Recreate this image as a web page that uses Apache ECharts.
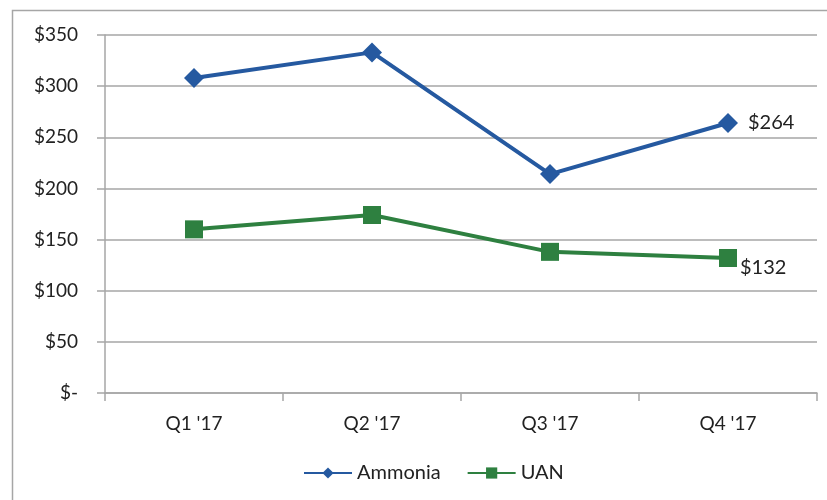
<!DOCTYPE html>
<html>
<head>
<meta charset="utf-8">
<script src="https://cdn.jsdelivr.net/npm/echarts@6/dist/echarts.min.js"></script>
<style>
  html, body { margin: 0; padding: 0; background: #fff; }
  #chart { width: 827px; height: 500px; }
</style>
</head>
<body>
<div id="chart"></div>
<script>
// 季度
const quarters = ["Q1 '17", "Q2 '17", "Q3 '17", "Q4 '17"];
// 价格
const ammonia = [308, 333, 214, 264];
const uan = [160, 174, 138, 132];

const font = "Lato, 'Open Sans', sans-serif";

let myChart = echarts.init(document.getElementById("chart"));
myChart.setOption({
  animation: false,
  textStyle: { fontFamily: font },
  graphic: [
    {
      type: "rect",
      shape: { x: 12.5, y: 10.5, width: 830, height: 500 },
      style: { fill: "none", stroke: "#A6A6A6", lineWidth: 1.5 },
    },
  ],
  legend: {
    bottom: 17,
    left: 303,
    padding: 0,
    itemWidth: 48,
    itemHeight: 14,
    itemGap: 26,
    textStyle: { fontSize: 20, color: "#222", fontFamily: font },
    data: ["Ammonia", "UAN"],
  },
  grid: {
    left: 105,
    right: 10,
    top: 35,
    bottom: 107,
    containLabel: false,
  },
  xAxis: {
    type: "category",
    data: quarters,
    boundaryGap: true,
    axisLine: { lineStyle: { color: "#A6A6A6", width: 1.5 } },
    axisTick: { show: true, length: 8, lineStyle: { color: "#A6A6A6", width: 1.5 } },
    axisLabel: { color: "#222", fontSize: 19, margin: 21, fontFamily: font },
  },
  yAxis: {
    type: "value",
    min: 0,
    max: 350,
    interval: 50,
    axisLine: { show: true, lineStyle: { color: "#A6A6A6", width: 1.5 } },
    axisTick: { show: true, inside: false, length: 8, lineStyle: { color: "#A6A6A6", width: 1.5 } },
    splitLine: { show: true, lineStyle: { color: "#A6A6A6", width: 1.5 } },
    axisLabel: {
      color: "#222",
      fontSize: 19,
      margin: 27,
      fontFamily: font,
      formatter: function (v) {
        return v === 0 ? "$-" : "$" + v;
      },
    },
  },
  series: [
    {
      name: "Ammonia",
      type: "line",
      data: ammonia,
      symbol: "diamond",
      symbolSize: 20,
      lineStyle: { color: "#2559A0", width: 4 },
      itemStyle: { color: "#2559A0" },
      label: {
        show: true,
        position: "right",
        distance: 10,
        fontSize: 20,
        color: "#222",
        fontFamily: font,
        formatter: function (p) {
          return p.dataIndex === ammonia.length - 1 ? "$" + p.value : "";
        },
      },
    },
    {
      name: "UAN",
      type: "line",
      data: uan,
      symbol: "rect",
      symbolSize: 18,
      lineStyle: { color: "#2E8040", width: 4 },
      itemStyle: { color: "#2E8040" },
      label: {
        show: true,
        position: "right",
        distance: 3,
        offset: [0, 10],
        fontSize: 20,
        color: "#222",
        fontFamily: font,
        formatter: function (p) {
          return p.dataIndex === uan.length - 1 ? "$" + p.value : "";
        },
      },
    },
  ],
});
window.addEventListener("resize", function () {
  myChart.resize();
});
</script>
</body>
</html>
